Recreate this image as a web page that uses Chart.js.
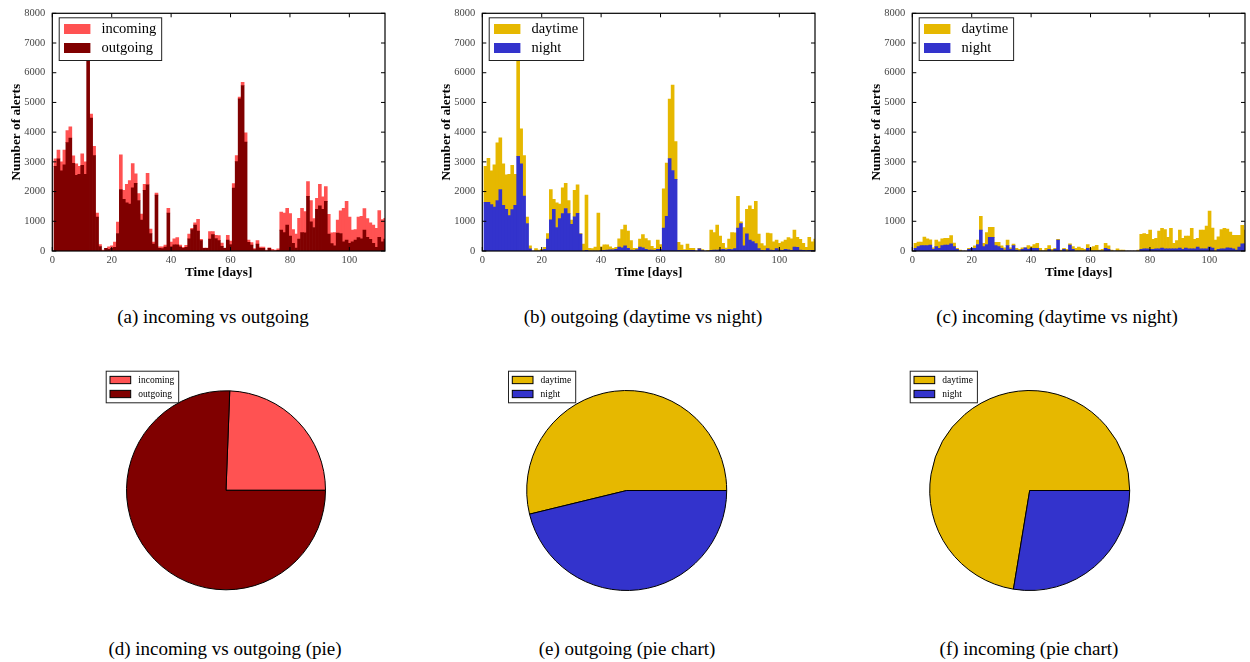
<!DOCTYPE html>
<html>
<head>
<meta charset="utf-8">
<script src="https://cdn.jsdelivr.net/npm/chart.js@4.4.1/dist/chart.umd.min.js"></script>
<style>
    html, body { margin: 0; padding: 0; background: #fff; overflow: hidden; }
    body { width: 1250px; height: 662px; position: relative; font-family: 'Liberation Serif', serif; }
    .panel { position: absolute; }
    canvas { display: block; }
    .caption { position: absolute; font-size: 19px; line-height: 1; color: #000; white-space: nowrap; transform: translateX(-50%); }
</style>
</head>
<body>
<div class="panel" style="left:0px;top:0px"><canvas id="histInOut" width="390" height="285"></canvas></div>
<div class="panel" style="left:430px;top:0px"><canvas id="histOut" width="390" height="285"></canvas></div>
<div class="panel" style="left:860px;top:0px"><canvas id="histIn" width="390" height="285"></canvas></div>

<div class="panel" style="left:100px;top:365px"><canvas id="pieInOut" width="260" height="250"></canvas></div>
<div class="panel" style="left:500px;top:365px"><canvas id="pieOut" width="260" height="250"></canvas></div>
<div class="panel" style="left:905px;top:365px"><canvas id="pieIn" width="260" height="250"></canvas></div>

<div class="caption" style="left:213px;top:307px">(a) incoming vs outgoing</div>
<div class="caption" style="left:643px;top:307px">(b) outgoing (daytime vs night)</div>
<div class="caption" style="left:1057px;top:307px">(c) incoming (daytime vs night)</div>
<div class="caption" style="left:225px;top:639px">(d) incoming vs outgoing (pie)</div>
<div class="caption" style="left:627px;top:639px">(e) outgoing (pie chart)</div>
<div class="caption" style="left:1029px;top:639px">(f) incoming (pie chart)</div>

<script>
// alerts per day, one value per daily bin (112 bins)
const outgoing = [
    2850, 3100, 2700, 2900, 3650, 3800, 2950, 2550, 2580, 2880,
    2580, 6600, 4470, 3210, 1140, 150, 0, 90, 60, 90,
    120, 590, 2070, 1740, 1620, 1580, 2130, 2280, 1700, 1040,
    2040, 2230, 590, 230, 1880, 90, 80, 130, 1280, 140,
    210, 210, 140, 90, 120, 410, 720, 870, 670, 350,
    90, 90, 400, 550, 420, 350, 160, 90, 370, 220,
    2120, 3010, 5120, 5570, 3670, 290, 200, 50, 230, 90,
    90, 0, 90, 0, 0, 20, 700, 620, 870, 500,
    260, 100, 400, 620, 610, 1840, 980, 790, 1400, 1520,
    1400, 1670, 570, 250, 170, 600, 590, 310, 370, 260,
    310, 370, 450, 410, 700, 460, 390, 260, 120, 460,
    310, 400
];
const incoming = [
    250, 300, 300, 500, 400, 380, 250, 380, 270, 390,
    420, 300, 140, 310, 140, 70, 30, 0, 80, 80,
    180, 380, 1170, 300, 620, 790, 810, 320, 230, 200,
    200, 380, 150, 70, 70, 50, 60, 70, 160, 160,
    200, 240, 60, 30, 70, 160, 40, 80, 400, 40,
    10, 10, 250, 100, 110, 170, 110, 10, 160, 110,
    150, 200, 60, 110, 310, 80, 80, 30, 120, 40,
    40, 30, 20, 60, 30, 50, 610, 660, 570, 760,
    460, 470, 700, 820, 720, 500, 720, 300, 370, 720,
    420, 500, 660, 360, 450, 440, 760, 1130, 1300, 880,
    390, 350, 690, 760, 730, 630, 560, 610, 640, 900,
    750, 700
];
const outgoingNight = [
    1640, 1640, 1560, 1480, 1700, 2070, 1540, 1400, 1190, 1390,
    1540, 3190, 2930, 1850, 925, 70, 0, 0, 0, 20,
    60, 400, 1050, 1400, 790, 1090, 1260, 1430, 1260, 900,
    1150, 1270, 570, 0, 20, 0, 0, 0, 0, 10,
    20, 30, 40, 40, 60, 130, 110, 170, 90, 30,
    20, 50, 130, 110, 60, 30, 30, 20, 60, 60,
    770, 1170, 3110, 2710, 2410, 20, 20, 20, 20, 20,
    20, 0, 70, 10, 0, 0, 20, 30, 30, 40,
    60, 40, 60, 50, 80, 770, 920, 170, 580, 370,
    320, 250, 80, 20, 10, 80, 30, 20, 80, 30,
    20, 60, 40, 20, 130, 120, 30, 20, 10, 20,
    20, 10
];
const outgoingDaytime = [
    1210, 1480, 1140, 1420, 1940, 1740, 1390, 1160, 1390, 1490,
    1040, 3410, 1180, 1360, 215, 100, 0, 80, 30, 40,
    60, 190, 1020, 340, 830, 490, 870, 850, 440, 140,
    890, 960, 20, 230, 1860, 90, 80, 130, 1280, 130,
    190, 180, 100, 50, 60, 280, 610, 700, 580, 320,
    70, 40, 270, 440, 360, 320, 130, 70, 310, 160,
    1320, 1790, 2000, 2870, 1270, 270, 180, 30, 210, 70,
    70, 0, 20, 40, 0, 20, 680, 590, 840, 460,
    200, 60, 340, 570, 530, 1070, 60, 620, 820, 1150,
    1080, 1420, 490, 230, 160, 520, 560, 290, 290, 230,
    290, 310, 410, 390, 570, 340, 360, 240, 110, 440,
    290, 390
];
const incomingNight = [
    90, 145, 180, 180, 180, 200, 55, 145, 90, 180,
    200, 200, 245, 145, 55, 0, 0, 0, 55, 90,
    90, 220, 700, 145, 220, 460, 460, 180, 145, 90,
    35, 180, 55, 180, 35, 0, 55, 110, 55, 90,
    90, 90, 0, 0, 0, 55, 0, 55, 370, 0,
    55, 0, 200, 55, 0, 0, 0, 0, 90, 0,
    0, 0, 0, 0, 90, 55, 0, 0, 0, 0,
    0, 0, 0, 0, 0, 0, 55, 75, 75, 55,
    55, 75, 75, 100, 75, 75, 75, 75, 75, 100,
    55, 100, 75, 75, 75, 130, 75, 75, 75, 130,
    100, 0, 55, 75, 75, 110, 100, 75, 35, 130,
    245, 245
];
const incomingDaytime = [
    165, 155, 120, 290, 230, 180, 55, 225, 220, 230,
    230, 230, 275, 125, 35, 35, 0, 0, 35, 0,
    80, 150, 470, 115, 400, 340, 340, 110, 145, 80,
    75, 190, 55, 50, 55, 55, 55, 0, 125, 55,
    130, 170, 90, 10, 90, 125, 55, 35, 20, 35,
    35, 55, 45, 90, 90, 130, 90, 55, 130, 110,
    145, 190, 35, 55, 170, 115, 35, 0, 70, 35,
    35, 0, 0, 0, 0, 35, 505, 515, 485, 645,
    335, 355, 595, 660, 645, 385, 685, 185, 275, 600,
    375, 400, 425, 685, 315, 300, 625, 625, 765, 1210,
    670, 370, 425, 645, 685, 630, 540, 455, 495, 400,
    615, 455
];

// pie shares in percent
const inOutLabels = ['incoming', 'outgoing'];
const inOutShare = [24.4, 75.6];
const dayNightLabels = ['daytime', 'night'];
const outgoingShare = [53.8, 46.2];
const incomingShare = [72.4, 27.6];

const LIGHT_RED = '#ff5252';
const DARK_RED = '#800000';
const GOLD = '#e6b800';
const BLUE = '#3333cc';
const SERIF = '"Liberation Serif", "DejaVu Serif", serif';

Chart.defaults.font.family = SERIF;
Chart.defaults.color = '#000';

// bins start a little after day 0, one day wide
function toBins(values) {
    return values.map(function(v, i) { return { x: i + 1.07, y: v }; });
}

// black box round the axes with inward ticks on all four sides
const axesFrame = {
    id: 'axesFrame',
    afterDatasetsDraw(chart) {
        const ctx = chart.ctx;
        const a = chart.chartArea;
        const xs = chart.scales.x;
        const ys = chart.scales.y;
        const len = 4;
        ctx.save();
        ctx.strokeStyle = '#000';
        ctx.lineWidth = 1;
        ctx.beginPath();
        xs.ticks.forEach(function(t) {
            const px = xs.getPixelForValue(t.value);
            ctx.moveTo(px, a.bottom); ctx.lineTo(px, a.bottom - len);
            ctx.moveTo(px, a.top); ctx.lineTo(px, a.top + len);
        });
        ys.ticks.forEach(function(t) {
            const py = ys.getPixelForValue(t.value);
            ctx.moveTo(a.left, py); ctx.lineTo(a.left + len, py);
            ctx.moveTo(a.right, py); ctx.lineTo(a.right - len, py);
        });
        ctx.stroke();
        ctx.lineWidth = 1.2;
        ctx.strokeRect(a.left, a.top, a.right - a.left, a.bottom - a.top);
        ctx.restore();
    }
};

// legend drawn in a framed white box, like the original figure
const boxLegend = {
    id: 'boxLegend',
    afterDraw(chart, args, o) {
        if (!o || !o.box) return;
        const ctx = chart.ctx;
        let items;
        if (chart.config.type === 'pie') {
            const ds = chart.data.datasets[0];
            items = chart.data.labels.map(function(l, i) { return { text: l, color: ds.backgroundColor[i] }; });
        } else {
            items = o.order.map(function(i) {
                const ds = chart.data.datasets[i];
                return { text: ds.label, color: ds.backgroundColor };
            });
        }
        ctx.save();
        ctx.font = o.fontSize + 'px ' + SERIF;
        const textW = Math.max.apply(null, items.map(function(it) { return ctx.measureText(it.text).width; }));
        const b = o.box;
        const w = b.textX + textW + b.padRight;
        ctx.fillStyle = '#fff';
        ctx.fillRect(b.x, b.y, w, b.h);
        ctx.strokeStyle = '#222';
        ctx.lineWidth = 1;
        ctx.strokeRect(b.x + 0.5, b.y + 0.5, w, b.h);
        ctx.textBaseline = 'middle';
        items.forEach(function(it, i) {
            const cy = b.y + b.rowY + i * b.rowGap;
            ctx.fillStyle = it.color;
            ctx.fillRect(b.x + b.swX, cy - b.swH / 2, b.swW, b.swH);
            if (o.swatchBorder) {
                ctx.strokeStyle = '#000';
                ctx.strokeRect(b.x + b.swX, cy - b.swH / 2, b.swW, b.swH);
            }
            ctx.fillStyle = '#000';
            ctx.fillText(it.text, b.x + b.textX, cy + 0.5);
        });
        ctx.restore();
    }
};

function histChart(id, datasets) {
    return new Chart(document.getElementById(id), {
        type: 'bar',
        data: { datasets: datasets },
        options: {
            responsive: false,
            animation: false,
            layout: { padding: { left: 5, top: 11.7, right: 5, bottom: 0 } },
            datasets: {
                bar: { barPercentage: 1, categoryPercentage: 1, borderWidth: 0 }
            },
            scales: {
                x: {
                    type: 'linear',
                    stacked: true,
                    offset: false,
                    min: 0,
                    max: 112,
                    grid: { display: false, drawTicks: false, offset: false },
                    border: { display: false },
                    ticks: {
                        stepSize: 20,
                        includeBounds: false,
                        padding: 3,
                        maxRotation: 0,
                        color: '#444',
                        font: { size: 10.5 },
                        callback: function(v) { return v % 20 === 0 ? String(v) : ''; }
                    },
                    title: {
                        display: true,
                        text: 'Time [days]',
                        color: '#000',
                        font: { size: 13.3, weight: 'bold' },
                        padding: { top: 0, bottom: 4 }
                    },
                    afterFit: function(s) { s.height = 34; }
                },
                y: {
                    stacked: true,
                    min: 0,
                    max: 8000,
                    grid: { display: false, drawTicks: false },
                    border: { display: false },
                    ticks: {
                        stepSize: 1000,
                        padding: 7,
                        color: '#444',
                        font: { size: 10.5 },
                        callback: function(v) { return String(v); }
                    },
                    title: {
                        display: true,
                        text: 'Number of alerts',
                        color: '#000',
                        font: { size: 13.3, weight: 'bold' },
                        padding: { top: 4, bottom: 0 }
                    },
                    afterFit: function(s) { s.width = 47.3; }
                }
            },
            plugins: {
                legend: { display: false },
                tooltip: { enabled: false },
                boxLegend: {
                    order: [1, 0],
                    fontSize: 14.5,
                    box: { x: 58.7, y: 17.3, h: 42.7, swX: 5.3, swW: 26.4, swH: 10, rowY: 11.7, rowGap: 19, textX: 42.7, padRight: 5 }
                }
            }
        },
        plugins: [axesFrame, boxLegend]
    });
}

function pieChart(id, labels, shares, colors, pad, legendX) {
    const total = shares[0] + shares[1];
    return new Chart(document.getElementById(id), {
        type: 'pie',
        data: {
            labels: labels,
            datasets: [{ data: shares, backgroundColor: colors, borderColor: '#000', borderWidth: 1 }]
        },
        options: {
            responsive: false,
            animation: false,
            // first slice runs counter-clockwise from 3 o'clock, as in the original
            rotation: 90 - 360 * shares[0] / total,
            layout: { padding: pad },
            plugins: {
                legend: { display: false },
                tooltip: { enabled: false },
                boxLegend: {
                    fontSize: 9.5,
                    swatchBorder: true,
                    box: { x: legendX, y: 5.7, h: 31.6, swX: 4.3, swW: 20.7, swH: 7.3, rowY: 9.3, rowGap: 14, textX: 32.6, padRight: 4 }
                }
            }
        },
        plugins: [boxLegend]
    });
}

histChart('histInOut', [
    { label: 'outgoing', data: toBins(outgoing), backgroundColor: DARK_RED },
    { label: 'incoming', data: toBins(incoming), backgroundColor: LIGHT_RED }
]);
histChart('histOut', [
    { label: 'night', data: toBins(outgoingNight), backgroundColor: BLUE },
    { label: 'daytime', data: toBins(outgoingDaytime), backgroundColor: GOLD }
]);
histChart('histIn', [
    { label: 'night', data: toBins(incomingNight), backgroundColor: BLUE },
    { label: 'daytime', data: toBins(incomingDaytime), backgroundColor: GOLD }
]);

pieChart('pieInOut', inOutLabels, inOutShare, [LIGHT_RED, DARK_RED],
    { left: 26, top: 25.3, right: 34, bottom: 24.7 }, 5.7);
pieChart('pieOut', dayNightLabels, outgoingShare, [GOLD, BLUE],
    { left: 26.2, top: 25, right: 32.8, bottom: 24 }, 8);
pieChart('pieIn', dayNightLabels, incomingShare, [GOLD, BLUE],
    { left: 24.2, top: 25, right: 34.8, bottom: 24 }, 4.7);
</script>
</body>
</html>
